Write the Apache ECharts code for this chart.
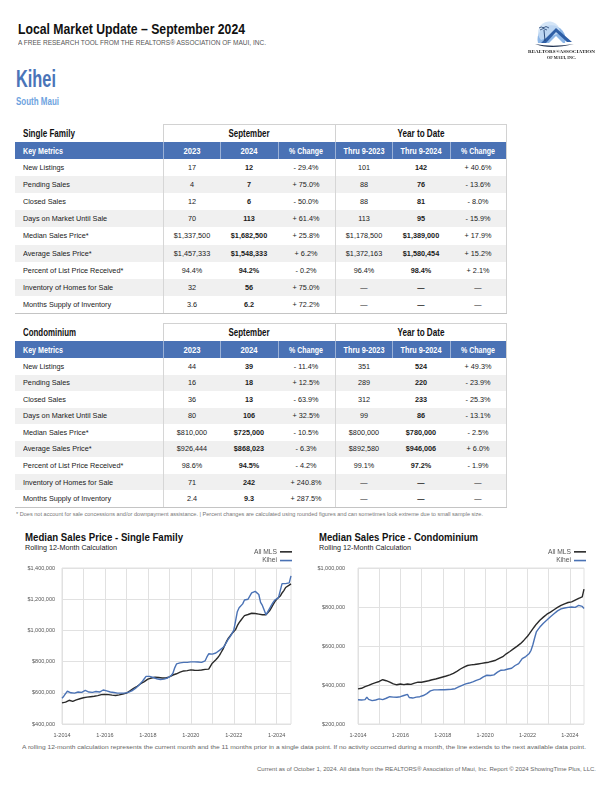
<!DOCTYPE html>
<html><head><meta charset="utf-8">
<script src="https://cdn.jsdelivr.net/npm/echarts/dist/echarts.min.js"></script>
<style>
html,body{margin:0;padding:0;background:#fff;}
#page{position:relative;width:612px;height:792px;overflow:hidden;font-family:'Liberation Sans',Arial,sans-serif;}
#charts{position:absolute;left:0;top:0;width:612px;height:792px;z-index:2;pointer-events:none;}
</style></head>
<body><div id="page">
<svg style="position:absolute;left:520px;top:14px;z-index:3" width="85" height="50" viewBox="520 14 85 50">
<path d="M538,43 A14,14 0 1,1 565,43 Z" fill="#8db6e6"/>
<path d="M541,40 A11,11 0 1,1 560,33 Z" fill="#c9def5" opacity="0.8"/>
<path d="M541,43 L556,28 L572,42 L567,42 L556,32 L546,43 Z" fill="#2f5fa6"/>
<path d="M549,43 L556,36 L563,43 Z" fill="#ffffff"/>
<path d="M544,30 L545,41" stroke="#1f3f6f" stroke-width="0.9"/>
<path d="M540,30 Q543,27 547,30 M543,28 Q546,25 549,28 M544,28 Q541,26 539,28" stroke="#1f3f6f" stroke-width="0.8" fill="none"/>
<path d="M535,44 Q550,50 574,44 Q552,47.5 535,44 Z" fill="#1c2f4f"/>
<text x="561.5" y="53.3" text-anchor="middle" font-family="'Liberation Serif',serif" font-weight="bold" font-size="4.6" textLength="67" lengthAdjust="spacingAndGlyphs" fill="#1c1c1c">REALTORS®ASSOCIATION</text>
<text x="561.5" y="58.6" text-anchor="middle" font-family="'Liberation Serif',serif" font-weight="bold" font-size="4.6" textLength="29" lengthAdjust="spacingAndGlyphs" fill="#1c1c1c">OF MAUI, INC.</text>
</svg>
</div>
<div id="charts"></div>
<script>
// ---------------- DATA ----------------
const metricLabels = ['New Listings','Pending Sales','Closed Sales','Days on Market Until Sale','Median Sales Price*','Average Sales Price*','Percent of List Price Received*','Inventory of Homes for Sale','Months Supply of Inventory'];
const columnHeaders = ['2023','2024','% Change','Thru 9-2023','Thru 9-2024','% Change'];

const sfMonth2023 = ['17','4','12','70','$1,337,500','$1,457,333','94.4%','32','3.6'];
const sfMonth2024 = ['12','7','6','113','$1,682,500','$1,548,333','94.2%','56','6.2'];
const sfMonthChange = ['- 29.4%','+ 75.0%','- 50.0%','+ 61.4%','+ 25.8%','+ 6.2%','- 0.2%','+ 75.0%','+ 72.2%'];
const sfYtd2023 = ['101','88','88','113','$1,178,500','$1,372,163','96.4%','—','—'];
const sfYtd2024 = ['142','76','81','95','$1,389,000','$1,580,454','98.4%','—','—'];
const sfYtdChange = ['+ 40.6%','- 13.6%','- 8.0%','- 15.9%','+ 17.9%','+ 15.2%','+ 2.1%','—','—'];

const condoMonth2023 = ['44','16','36','80','$810,000','$926,444','98.6%','71','2.4'];
const condoMonth2024 = ['39','18','13','106','$725,000','$868,023','94.5%','242','9.3'];
const condoMonthChange = ['- 11.4%','+ 12.5%','- 63.9%','+ 32.5%','- 10.5%','- 6.3%','- 4.2%','+ 240.8%','+ 287.5%'];
const condoYtd2023 = ['351','289','312','99','$800,000','$892,580','99.1%','—','—'];
const condoYtd2024 = ['524','220','233','86','$780,000','$946,006','97.2%','—','—'];
const condoYtdChange = ['+ 49.3%','- 23.9%','- 25.3%','- 13.1%','- 2.5%','+ 6.0%','- 1.9%','—','—'];

const xTickLabels = ['1-2014','1-2016','1-2018','1-2020','1-2022','1-2024'];

// Rolling 12-month median sales price, thousands of dollars, Jan 2014 .. Sep 2024
const sfAllMls = [
535,535,540,548,552,546,545,550,555,558,562,565,
568,570,572,572,575,578,578,580,582,585,588,590,
590,588,588,585,585,583,583,585,587,590,592,595,
598,605,612,620,628,635,642,650,658,665,672,680,
688,692,695,698,700,700,698,697,695,693,695,697,
702,708,714,718,722,728,732,736,740,745,742,745,
747,748,745,742,744,745,746,748,750,752,752,758,
790,800,812,825,840,860,880,905,930,950,965,980,
990,1005,1030,1050,1065,1080,1095,1100,1102,1105,1110,1110,
1108,1106,1104,1102,1100,1100,1100,1110,1125,1145,1165,1185,
1200,1210,1220,1240,1255,1275,1282,1290,1298];
const sfKihei = [
565,578,595,610,612,600,592,598,603,605,600,603,
608,615,612,605,600,603,610,608,602,605,610,618,
610,612,608,605,608,602,600,598,600,598,596,598,
600,603,608,612,620,628,638,648,660,675,690,705,
710,705,700,698,695,690,688,685,685,688,690,695,
700,710,725,760,785,790,792,795,795,798,795,797,
798,800,798,795,797,800,795,792,805,830,850,845,
848,850,855,865,872,880,890,905,925,945,960,970,
1000,1060,1120,1145,1155,1170,1195,1200,1200,1205,1240,1250,
1250,1255,1230,1180,1160,1130,1100,1110,1140,1160,1180,1195,
1200,1210,1215,1300,1298,1300,1302,1305,1350];
const condoAllMls = [
380,379,383,387,392,395,398,402,406,410,412,414,
418,422,427,426,422,418,415,410,406,403,401,402,
405,404,402,403,405,404,403,406,410,413,415,414,
414,416,418,420,422,424,427,429,431,433,436,438,
441,443,446,449,452,456,460,465,470,476,482,488,
492,496,500,502,503,505,505,506,508,510,511,512,
514,515,517,520,522,524,527,530,536,540,545,552,
560,565,572,578,585,592,598,604,612,620,630,640,
650,662,675,688,700,712,722,732,740,748,756,763,
768,774,780,786,792,798,804,808,812,816,820,823,
825,826,816,835,842,844,845,852,892];
const condoKihei = [
324,324,323,322,325,338,326,322,320,321,323,326,
329,327,325,328,332,335,340,343,338,335,337,338,
340,343,346,350,352,336,334,333,335,338,341,340,
341,346,352,356,362,370,374,375,375,375,375,376,
375,376,376,377,377,378,380,381,385,390,394,398,
400,406,408,410,413,416,420,424,427,430,435,442,
449,450,450,449,449,452,462,466,475,476,476,477,
484,482,480,486,496,500,505,510,520,535,540,546,
550,562,578,605,640,672,685,697,707,717,725,733,
742,750,758,765,772,780,786,790,793,795,797,798,
799,800,802,798,800,808,814,803,792];

// month category names
const months = [];
for (let y = 2014; y <= 2024; y++) for (let m = 1; m <= 12; m++) { if (y === 2024 && m > 9) break; months.push(m + '-' + y); }

// ---------------- LAYOUT HELPERS ----------------
const page = document.getElementById('page');
const FAM = "'Liberation Sans', Arial, sans-serif";
function T(str, x, base, o) {
  const fs = o.fs, el = document.createElement('div');
  el.textContent = str;
  el.style.cssText = `position:absolute;white-space:nowrap;left:${x}px;top:${base - 0.8465 * fs}px;font-size:${fs}px;line-height:${fs}px;font-weight:${o.b ? 'bold' : 'normal'};color:${o.c || '#1e1e1e'};transform-origin:0 0;font-family:${FAM};`;
  page.appendChild(el);
  let sx = o.sx || 1;
  if (o.w) sx = o.w / el.getBoundingClientRect().width;
  const a = o.a || 'l';
  const tr = a === 'c' ? ' translateX(-50%)' : a === 'r' ? ' translateX(-100%)' : '';
  el.style.transform = `scaleX(${sx})${tr}`;
  return el;
}
function R(x, y, w, h, c) {
  const el = document.createElement('div');
  el.style.cssText = `position:absolute;left:${x}px;top:${y}px;width:${w}px;height:${h}px;background:${c};`;
  page.appendChild(el);
}

// ---------------- HEADER ----------------
T('Local Market Update – September 2024', 18, 34, {fs: 15.5, b: 1, w: 227, c: '#111'});
T('A FREE RESEARCH TOOL FROM THE REALTORS® ASSOCIATION OF MAUI, INC.', 18, 45, {fs: 6.3, w: 248, c: '#555'});
T('Kihei', 16, 88, {fs: 23.5, b: 1, w: 40, c: '#4a74b8'});
T('South Maui', 16, 105, {fs: 10, b: 1, w: 43, c: '#6ea3e0'});

// ---------------- TABLES ----------------
const colCenters = [191.7, 249, 306.3, 363.7, 421, 478.3];
const colLines = [163, 220.3, 277.7, 335, 392.3, 449.7];
const hdrW = [17, 17, 34, 41, 41, 34];
function table(top, title, titleW, rowH, cols) {
  const gTop = top, bTop = top + 18, bBot = bTop + 17, rTop = bBot, bottom = rTop + rowH * 9;
  for (let i = 0; i < 9; i++) if (i % 2) R(15, rTop + i * rowH, 492, rowH, '#f0f0f0');
  R(15, bTop, 492, 17, '#4a72b5');
  colLines.forEach(x => R(x, bTop, 1, 17, 'rgba(255,255,255,0.45)'));
  R(163, gTop, 344, 1, '#d2d2d2');
  [163, 335].forEach(x => { R(x, gTop, 1, bTop - gTop, '#d2d2d2'); R(x, bBot, 1, bottom - bBot, '#d6d6d6'); });
  R(506, gTop, 1, bottom - gTop, '#d2d2d2');
  R(15, bottom, 492, 1, '#c4c4c4');
  T(title, 23, gTop + 13.7, {fs: 10.2, b: 1, w: titleW, c: '#111'});
  T('September', 249, gTop + 13.7, {fs: 10.2, b: 1, w: 41, a: 'c', c: '#111'});
  T('Year to Date', 421, gTop + 13.7, {fs: 10.2, b: 1, w: 47, a: 'c', c: '#111'});
  T('Key Metrics', 23, bTop + 12.4, {fs: 9.8, b: 1, w: 40, c: '#fff'});
  columnHeaders.forEach((h, j) => T(h, colCenters[j], bTop + 12.4, {fs: 9.8, b: 1, w: hdrW[j], c: '#fff', a: 'c'}));
  metricLabels.forEach((lab, i) => {
    const base = rTop + i * rowH + rowH / 2 + 2.8;
    T(lab, 23, base, {fs: 7.5, sx: 0.97, c: '#1a1a1a'});
    cols.forEach((col, j) => T(col[i], colCenters[j], base, {fs: 7.5, sx: 0.97, b: (j === 1 || j === 4), c: '#1a1a1a', a: 'c'}));
  });
}
table(124, 'Single Family', 52, 17.1, [sfMonth2023, sfMonth2024, sfMonthChange, sfYtd2023, sfYtd2024, sfYtdChange]);
table(323, 'Condominium', 53, 16.55, [condoMonth2023, condoMonth2024, condoMonthChange, condoYtd2023, condoYtd2024, condoYtdChange]);
T('* Does not account for sale concessions and/or downpayment assistance. | Percent changes are calculated using rounded figures and can sometimes look extreme due to small sample size.', 16, 516.5, {fs: 5.6, w: 467, c: '#777'});

// ---------------- CHART TEXTS ----------------
T('Median Sales Price - Single Family', 25, 541, {fs: 10.6, b: 1, w: 158, c: '#111'});
T('Rolling 12-Month Calculation', 25, 550.5, {fs: 7.4, w: 92, c: '#222'});
T('Median Sales Price - Condominium', 319, 541, {fs: 10.6, b: 1, w: 159, c: '#111'});
T('Rolling 12-Month Calculation', 319, 550.5, {fs: 7.4, w: 92, c: '#222'});
T('A rolling 12-month calculation represents the current month and the 11 months prior in a single data point. If no activity occurred during a month, the line extends to the next available data point.', 22, 750, {fs: 5.8, w: 564, c: '#666'});
T('Current as of October 1, 2024. All data from the REALTORS® Association of Maui, Inc. Report © 2024 ShowingTime Plus, LLC.', 596, 772, {fs: 5.8, w: 339, c: '#666', a: 'r'});

// ---------------- CHARTS ----------------
function fontAvail(name) {
  const c = document.createElement('canvas').getContext('2d'); const s = 'abcdefghijklmnop$1,400,000';
  c.font = '40px monospace'; const w1 = c.measureText(s).width;
  c.font = `40px "${name}", monospace`; return Math.abs(c.measureText(s).width - w1) > 0.5;
}
const NARROW = fontAvail('Liberation Sans Narrow');
const axisFont = NARROW ? '"Liberation Sans Narrow", "Liberation Sans", Arial' : '"Liberation Sans", Arial';
const axisFs = NARROW ? 6.2 : 5.5;
const GRID = '#e1e1e1', BLACK = '#2a2a2a', BLUE = '#4a72b5';

function xAx(g) {
  return {type: 'category', gridIndex: g, data: months, boundaryGap: false,
    axisLine: {show: false}, axisTick: {show: false},
    axisLabel: {interval: (i, v) => xTickLabels.includes(v), fontSize: axisFs, fontFamily: axisFont, color: '#555', margin: 8},
    splitLine: {show: true, interval: (i) => i % 12 === 0, lineStyle: {color: GRID, width: 1}}};
}
function yAx(g, min, max, margin) {
  return {type: 'value', gridIndex: g, min, max, interval: 200,
    axisLine: {show: false}, axisTick: {show: false},
    axisLabel: {formatter: v => '$' + (v * 1000).toLocaleString('en-US'), fontSize: axisFs, fontFamily: axisFont, color: '#555', margin},
    splitLine: {lineStyle: {color: GRID, width: 1}}};
}
function ser(name, data, g, color) {
  return {name, type: 'line', xAxisIndex: g, yAxisIndex: g, data, symbol: 'none', silent: true,
    lineStyle: {color, width: 1.4}, itemStyle: {color}, animation: false};
}
function leg(right) {
  return {data: ['All MLS', 'Kihei'], orient: 'vertical', align: 'right', right, top: 547.5, padding: 0,
    itemGap: 0, itemWidth: 12, itemHeight: 1.6, icon: 'rect', selectedMode: false,
    textStyle: {fontSize: 6.7, color: '#555', fontFamily: FAM, lineHeight: 8.7, padding: [0, -2, 0, 0]}};
}
const chart = echarts.init(document.getElementById('charts'), null, {renderer: 'canvas'});
chart.setOption({
  backgroundColor: 'transparent', animation: false,
  textStyle: {fontFamily: FAM},
  legend: [leg(320), leg(26)],
  grid: [
    {left: 62, top: 568, width: 229, height: 156, show: true, borderColor: GRID, borderWidth: 1, backgroundColor: 'transparent'},
    {left: 358, top: 568, width: 226, height: 156, show: true, borderColor: GRID, borderWidth: 1, backgroundColor: 'transparent'}
  ],
  xAxis: [xAx(0), xAx(1)],
  yAxis: [yAx(0, 400, 1400, 7), yAx(1, 200, 1000, 13)],
  series: [
    ser('All MLS', sfAllMls, 0, BLACK), ser('Kihei', sfKihei, 0, BLUE),
    ser('All MLS', condoAllMls, 1, BLACK), ser('Kihei', condoKihei, 1, BLUE)
  ]
});
</script>
</body></html>
